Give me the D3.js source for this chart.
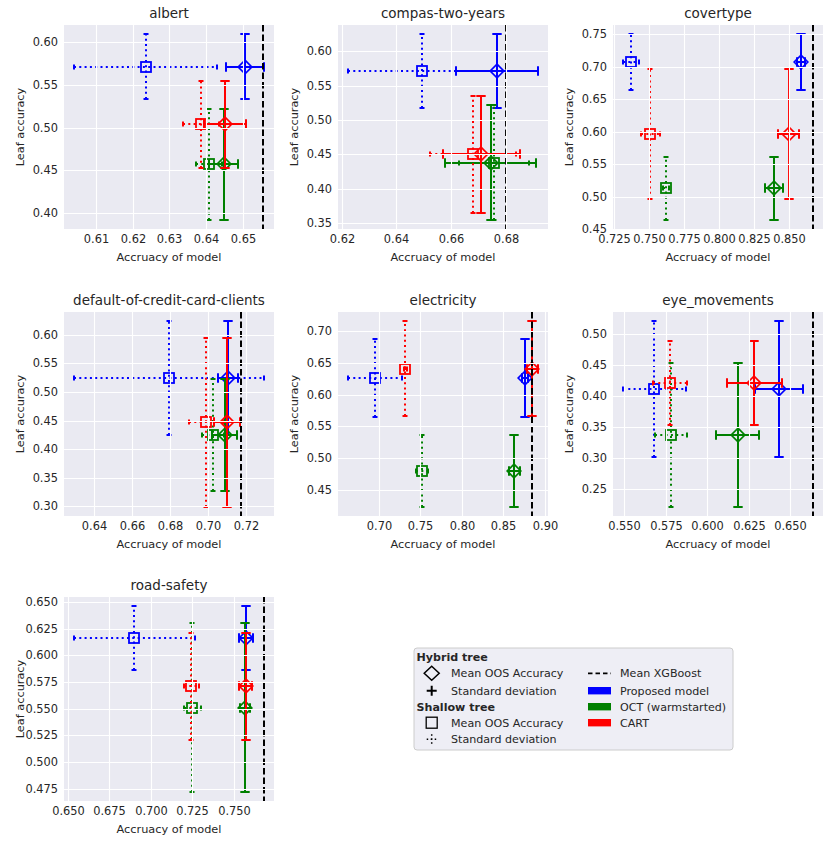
<!DOCTYPE html>
<html><head><meta charset="utf-8">
<script src="https://cdn.jsdelivr.net/npm/d3@7"></script>
<style>body{margin:0;background:#fff} text{font-family:"DejaVu Sans",sans-serif;fill:#262626}</style>
</head><body><svg id="c" width="831" height="844"></svg>
<script>
const datasets = ["albert","compas-two-years","covertype","default-of-credit-card-clients","electricity","eye_movements","road-safety"];
const models = ["Proposed model","OCT (warmstarted)","CART"];
const modelColors = ["#0000ff","#008000","#ff0000"];
// per dataset: [Proposed, OCT, CART]
const leafAcc = [
 [0.571,0.457,0.504],
 [0.571,0.438,0.450],
 [0.707,0.513,0.597],
 [0.524,0.425,0.447],
 [0.627,0.480,0.641],
 [0.411,0.337,0.421],
 [0.616,0.551,0.571]
];
const leafAccSd = [
 [0.038,0.0645,0.051],
 [0.054,0.0834,0.085],
 [0.043,0.0487,0.100],
 [0.100,0.098,0.148],
 [0.0616,0.0566,0.075],
 [0.110,0.116,0.0685],
 [0.030,0.079,0.050]
];
const hybridAcc = [
 [0.6506,0.6448,0.6452],
 [0.6768,0.6744,0.6710],
 [0.8586,0.8395,0.8498],
 [0.7107,0.7090,0.7100],
 [0.8760,0.8632,0.8852],
 [0.6430,0.6184,0.6284],
 [0.7574,0.7568,0.7570]
];
const hybridAccSd = [
 [0.0053,0.0039,0.0058],
 [0.0150,0.0165,0.0141],
 [0.0030,0.0067,0.0076],
 [0.0055,0.0065,0.0068],
 [0.0040,0.0068,0.0072],
 [0.0145,0.0130,0.0167],
 [0.0044,0.0030,0.0042]
];
const shallowAcc = [
 [0.6235,0.6408,0.6386],
 [0.6494,0.6756,0.6680],
 [0.7374,0.7625,0.7511],
 [0.6796,0.7028,0.6993],
 [0.6952,0.7520,0.7320],
 [0.5680,0.5780,0.5776],
 [0.6900,0.7250,0.7244]
];
const shallowAccSd = [
 [0.0196,0.0035,0.0050],
 [0.0272,0.0126,0.0156],
 [0.0060,0.0020,0.0068],
 [0.0503,0.0060,0.0090],
 [0.0330,0.0070,0.0020],
 [0.0190,0.0096,0.0105],
 [0.0365,0.0053,0.0046]
];
const xgbAcc = [0.6556,0.6800,0.8676,0.7177,0.8852,0.6640,0.7684];
const xTickLabels = [
 ["0.61","0.62","0.63","0.64","0.65"],
 ["0.62","0.64","0.66","0.68"],
 ["0.725","0.750","0.775","0.800","0.825","0.850"],
 ["0.64","0.66","0.68","0.70","0.72"],
 ["0.70","0.75","0.80","0.85","0.90"],
 ["0.550","0.575","0.600","0.625","0.650"],
 ["0.650","0.675","0.700","0.725","0.750"]
];
const yTickLabels = [
 ["0.40","0.45","0.50","0.55","0.60"],
 ["0.35","0.40","0.45","0.50","0.55","0.60"],
 ["0.45","0.50","0.55","0.60","0.65","0.70","0.75"],
 ["0.30","0.35","0.40","0.45","0.50","0.55","0.60"],
 ["0.45","0.50","0.55","0.60","0.65","0.70"],
 ["0.25","0.30","0.35","0.40","0.45","0.50"],
 ["0.475","0.500","0.525","0.550","0.575","0.600","0.625","0.650"]
];

const svg = d3.select("#c");
const W = 210, H = 204;
const colX = [64, 338, 613];
const rowY = [25, 312, 597];

function pad(ext){const r=ext[1]-ext[0];return [ext[0]-0.05*r, ext[1]+0.05*r];}

datasets.forEach((name, d) => {
  const left = colX[d % 3], top = rowY[Math.floor(d / 3)];
  const g = svg.append("g").attr("transform", `translate(${left},${top})`);
  const xs = [xgbAcc[d]], ys = [];
  for (let m = 0; m < 3; m++) {
    xs.push(hybridAcc[d][m] - hybridAccSd[d][m], hybridAcc[d][m] + hybridAccSd[d][m],
            shallowAcc[d][m] - shallowAccSd[d][m], shallowAcc[d][m] + shallowAccSd[d][m]);
    ys.push(leafAcc[d][m] - leafAccSd[d][m], leafAcc[d][m] + leafAccSd[d][m]);
  }
  const x = d3.scaleLinear().domain(pad(d3.extent(xs))).rangeRound([0, W]);
  const y = d3.scaleLinear().domain(pad(d3.extent(ys))).rangeRound([H, 0]);

  g.append("rect").attr("width", W).attr("height", H).attr("fill", "#eaeaf2");
  const xt = xTickLabels[d].map(Number), yt = yTickLabels[d].map(Number);
  const clip = "clip" + d;
  g.append("clipPath").attr("id", clip).append("rect").attr("width", W).attr("height", H);
  const inner = g.append("g").attr("clip-path", `url(#${clip})`);

  const xAxis = d3.axisBottom(x).tickValues(xt).tickFormat((v, i) => xTickLabels[d][i]).tickSize(-H).tickPadding(6);
  const yAxis = d3.axisLeft(y).tickValues(yt).tickFormat((v, i) => yTickLabels[d][i]).tickSize(-W).tickPadding(6);
  const gx = g.append("g").attr("transform", `translate(0,${H})`).call(xAxis);
  const gy = g.append("g").call(yAxis);
  [gx, gy].forEach(a => {
    a.select(".domain").remove();
    a.selectAll(".tick line").attr("stroke", "#fff").attr("stroke-width", 1.1);
    a.selectAll(".tick text").attr("font-size", 11.4).attr("fill", "#262626").style("font-family", "DejaVu Sans");
  });
  gx.selectAll(".tick text").attr("dy", "0.71em");

  for (let m = 0; m < 3; m++) {
    const col = modelColors[m];
    const cy = leafAcc[d][m], sy = leafAccSd[d][m];
    [[hybridAcc[d][m], hybridAccSd[d][m], false], [shallowAcc[d][m], shallowAccSd[d][m], true]].forEach(([cx, sx, dotted]) => {
      const eg = inner.append("g").attr("stroke", col).attr("fill", "none");
      const dash = dotted ? "2,3.3" : null;
      const lw = 2;
      eg.append("line").attr("x1", x(cx - sx)).attr("x2", x(cx + sx)).attr("y1", y(cy)).attr("y2", y(cy))
        .attr("stroke-width", lw).attr("stroke-dasharray", dash);
      eg.append("line").attr("x1", x(cx)).attr("x2", x(cx)).attr("y1", y(cy - sy)).attr("y2", y(cy + sy))
        .attr("stroke-width", lw).attr("stroke-dasharray", dash);
      const c = dotted ? 2.5 : 4.7;
      [cx - sx, cx + sx].forEach(v => eg.append("line").attr("x1", x(v)).attr("x2", x(v))
        .attr("y1", y(cy) - c).attr("y2", y(cy) + c).attr("stroke-width", 2));
      [cy - sy, cy + sy].forEach(v => eg.append("line").attr("y1", y(v)).attr("y2", y(v))
        .attr("x1", x(cx) - c).attr("x2", x(cx) + c).attr("stroke-width", 2));
      const px = x(cx), py = y(cy);
      if (dotted) {
        eg.append("rect").attr("x", px - 5).attr("y", py - 5).attr("width", 10).attr("height", 10).attr("stroke-width", 1.8);
      } else {
        const r = 6.8;
        eg.append("path").attr("d", `M${px},${py - r}L${px + r},${py}L${px},${py + r}L${px - r},${py}Z`).attr("stroke-width", 1.7);
      }
    });
  }
  inner.append("line").attr("x1", x(xgbAcc[d])).attr("x2", x(xgbAcc[d])).attr("y1", 0).attr("y2", H)
    .attr("stroke", "#000").attr("stroke-width", 2).attr("stroke-dasharray", "6.5,3");

  g.append("text").attr("x", W / 2).attr("y", -7).attr("text-anchor", "middle").attr("font-size", 13.5).text(name);
  g.append("text").attr("x", W / 2).attr("y", H + 32).attr("text-anchor", "middle").attr("font-size", 11.3).text("Accruacy of model");
  g.append("text").attr("transform", `translate(-40,${H / 2}) rotate(-90)`).attr("text-anchor", "middle").attr("font-size", 11.3).text("Leaf accuracy");
});

// Legend
const lg = svg.append("g");
lg.append("rect").attr("x", 414).attr("y", 648).attr("width", 319).attr("height", 102).attr("rx", 3)
  .attr("fill", "#eeeef5").attr("stroke", "#cccccc").attr("stroke-width", 1);
const fs = 11.1;
const rowsY = [656.7, 673.3, 690.7, 706.7, 722.7, 739.3];
lg.append("text").attr("x", 416.5).attr("y", rowsY[0]).attr("dy", "0.35em").attr("font-size", fs).attr("font-weight", "bold").text("Hybrid tree");
lg.append("text").attr("x", 416.5).attr("y", rowsY[3]).attr("dy", "0.35em").attr("font-size", fs).attr("font-weight", "bold").text("Shallow tree");
const hx = 431.7;
lg.append("path").attr("d", `M${hx},${rowsY[1] - 7}L${hx + 7.5},${rowsY[1]}L${hx},${rowsY[1] + 7}L${hx - 7.5},${rowsY[1]}Z`)
  .attr("fill", "none").attr("stroke", "#000").attr("stroke-width", 1.5);
lg.append("path").attr("d", `M${hx - 5},${rowsY[2]}H${hx + 5}M${hx},${rowsY[2] - 5}V${rowsY[2] + 5}`).attr("stroke", "#000").attr("stroke-width", 2);
lg.append("rect").attr("x", hx - 5.5).attr("y", rowsY[4] - 5.5).attr("width", 11).attr("height", 11).attr("fill", "none").attr("stroke", "#000").attr("stroke-width", 1.3);
lg.append("path").attr("d", `M${hx - 5},${rowsY[5]}H${hx + 5}M${hx},${rowsY[5] - 5}V${rowsY[5] + 5}`).attr("stroke", "#000").attr("stroke-width", 1.5).attr("stroke-dasharray", "1.5,2.5");
[["Mean OOS Accuracy", 1], ["Standard deviation", 2], ["Mean OOS Accuracy", 4], ["Standard deviation", 5]].forEach(([t, r]) =>
  lg.append("text").attr("x", 451).attr("y", rowsY[r]).attr("dy", "0.35em").attr("font-size", fs).text(t));
lg.append("line").attr("x1", 588).attr("x2", 611).attr("y1", rowsY[1]).attr("y2", rowsY[1]).attr("stroke", "#000").attr("stroke-width", 1.8).attr("stroke-dasharray", "4.5,3");
lg.append("text").attr("x", 620).attr("y", rowsY[1]).attr("dy", "0.35em").attr("font-size", fs).text("Mean XGBoost");
models.forEach((mName, m) => {
  const ry = rowsY[m + 2];
  lg.append("rect").attr("x", 588).attr("y", ry - 3.7).attr("width", 23).attr("height", 7.4).attr("fill", modelColors[m]);
  lg.append("text").attr("x", 620).attr("y", ry).attr("dy", "0.35em").attr("font-size", fs).text(mName);
});
</script></body></html>
